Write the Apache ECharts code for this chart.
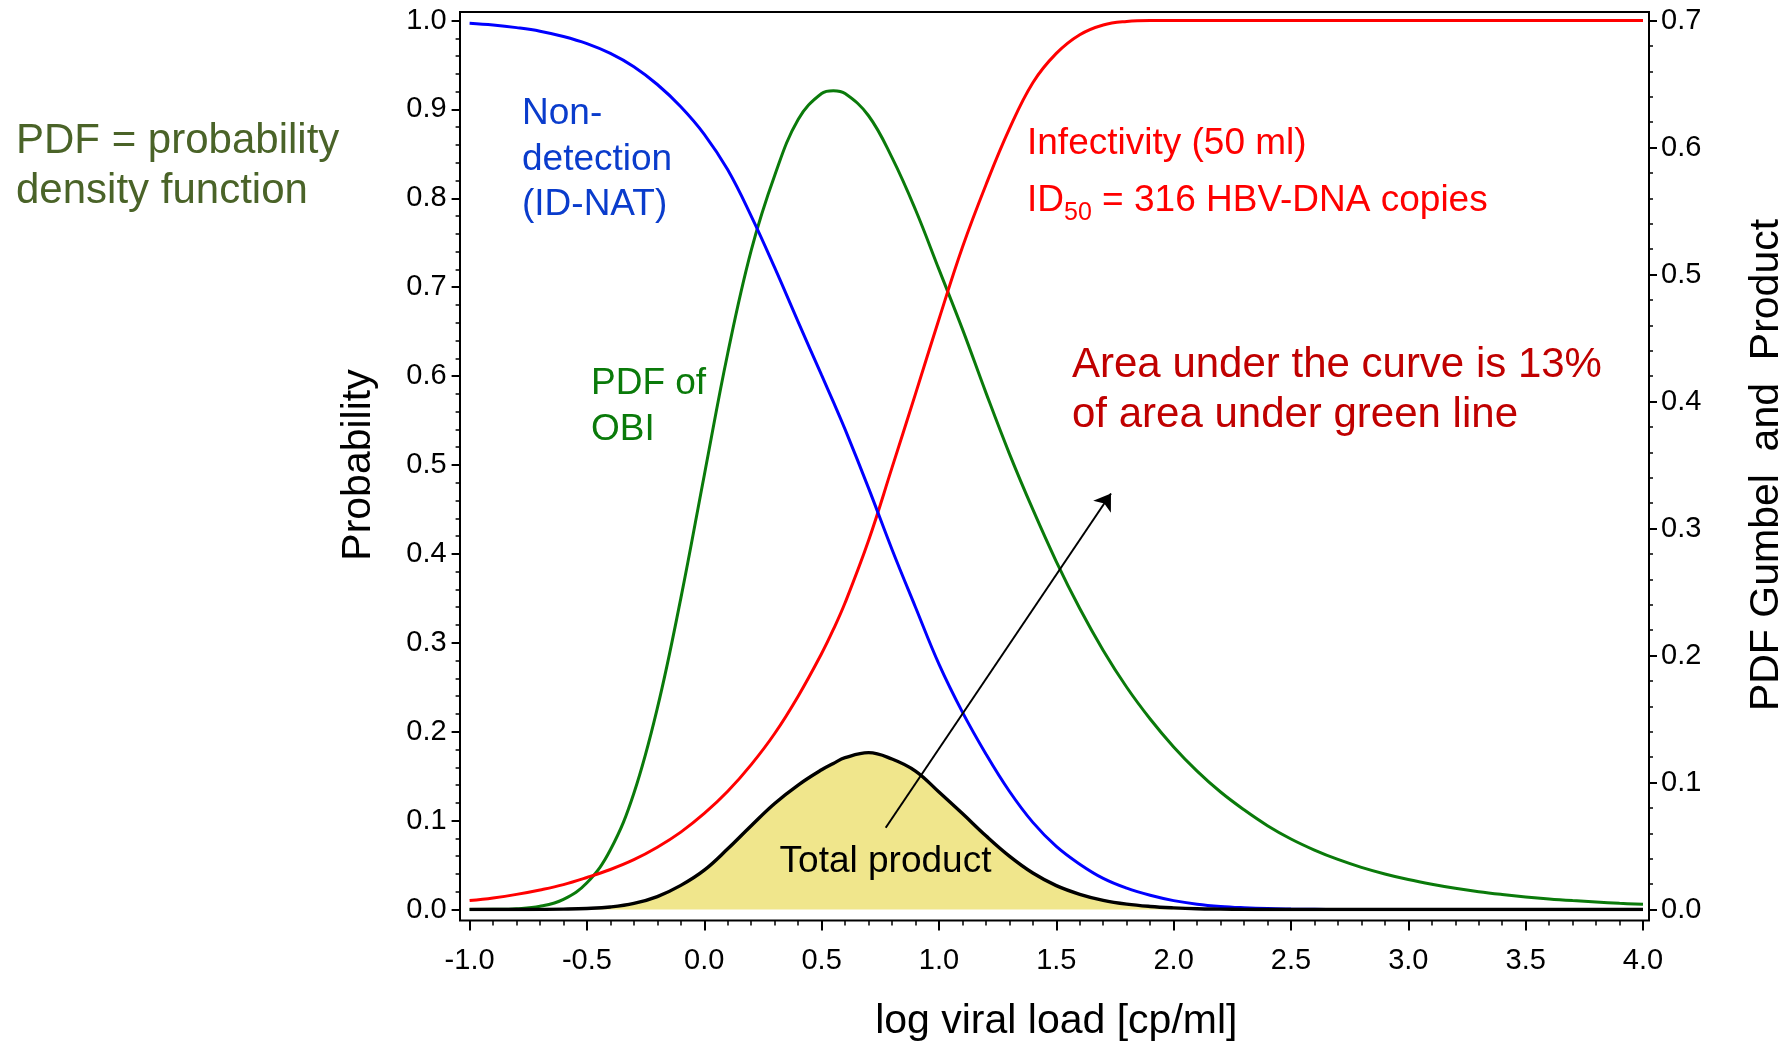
<!DOCTYPE html>
<html>
<head>
<meta charset="utf-8">
<script src="https://cdn.jsdelivr.net/npm/echarts@6/dist/echarts.min.js"></script>
<style>
html,body{margin:0;padding:0;background:#fff;}
#c{width:1788px;height:1042px;}
</style>
</head>
<body>
<div id="c"></div>
<script>
// ---- data ----
const xValues = [-1.0,-0.9,-0.8,-0.7,-0.6,-0.5,-0.4,-0.3,-0.2,-0.1,
  0.0,0.1,0.2,0.3,0.4,0.5,0.55,0.6,0.7,0.8,0.9,
  1.0,1.1,1.2,1.3,1.4,1.5,1.6,1.7,1.8,1.9,
  2.0,2.1,2.2,2.3,2.4,2.5,2.6,2.7,2.8,2.9,
  3.0,3.1,3.2,3.3,3.4,3.5,3.6,3.7,3.8,3.9,4.0];

// Non-detection (ID-NAT) probability, left axis
const nonDetection = [0.997,0.995,0.992,0.988,0.982,0.974,0.963,0.948,0.928,0.903,
  0.872,0.832,0.780,0.722,0.661,0.601,0.571,0.540,0.474,0.405,0.340,
  0.276,0.222,0.175,0.133,0.098,0.071,0.051,0.035,0.024,0.016,
  0.010,0.006,0.0035,0.002,0.001,0.0005,0.0002,0,0,0,
  0,0,0,0,0,0,0,0,0,0,0];

// Infectivity (50 ml), left axis
const infectivity = [0.010,0.013,0.017,0.022,0.028,0.036,0.045,0.056,0.070,0.087,
  0.108,0.133,0.163,0.198,0.240,0.288,0.315,0.345,0.415,0.497,0.580,
  0.664,0.745,0.815,0.878,0.930,0.963,0.984,0.995,0.999,1.0,
  1.0,1.0,1.0,1.0,1.0,1.0,1.0,1.0,1.0,1.0,
  1.0,1.0,1.0,1.0,1.0,1.0,1.0,1.0,1.0,1.0,1.0];

// PDF of OBI (Gumbel), right axis
const pdfOBI = [0.0000,0.0001,0.0006,0.0025,0.0080,0.0210,0.0470,0.0915,0.1585,0.2450,
  0.3420,0.4380,0.5190,0.5780,0.6220,0.6425,0.6447,0.6425,0.6250,0.5920,0.5510,
  0.5040,0.4570,0.4070,0.3590,0.3150,0.2740,0.2370,0.2040,0.1750,0.1500,
  0.1280,0.1090,0.0925,0.0785,0.0660,0.0555,0.0468,0.0394,0.0332,0.0280,
  0.0236,0.0199,0.0167,0.0140,0.0118,0.0099,0.0083,0.0070,0.0059,0.0049,0.0041];

// Total product, right axis
const totalProduct = [0,0,0,0.0001,0.0003,0.0008,0.0020,0.0048,0.0102,0.0190,
  0.0310,0.0478,0.0660,0.0835,0.0980,0.1100,0.1150,0.1195,0.1235,0.1185,0.1090,
  0.0925,0.0755,0.0580,0.0420,0.0287,0.0188,0.0120,0.0072,0.0042,0.0024,
  0.0013,0.0006,0.0003,0.0001,0,0,0,0,0,0,
  0,0,0,0,0,0,0,0,0,0,0];

// annotation arrow (data units: x, right-axis value)
const arrowFrom = [0.773, 0.0644];
const arrowTo = [1.733, 0.3276];

// ---- chart ----
const FONT = '"Liberation Sans", Arial, Helvetica, sans-serif';
const pair = arr => xValues.map((x, i) => [x, arr[i]]);

const chart = echarts.init(document.getElementById('c'), null, {renderer: 'canvas'});

const ctx = document.createElement('canvas').getContext('2d');
ctx.font = '37px ' + FONT;
const wID = ctx.measureText('ID').width;
ctx.font = '25px ' + FONT;
const w50 = ctx.measureText('50').width;

const tickStyle = {color: '#000', width: 2};
const minorStyle = {color: '#000', width: 1.5};

chart.setOption({
  animation: false,
  backgroundColor: '#fff',
  grid: [
    {left: 469.6, right: 145, top: 20.5, bottom: 132.5, show: false,
     containLabel: false, outerBoundsMode: 'none'},
    {left: 460, right: 139, top: 12, bottom: 121.5, show: true,
     containLabel: false, outerBoundsMode: 'none',
     borderColor: '#000', borderWidth: 2, backgroundColor: 'transparent', z: 1}
  ],
  xAxis: [
    {gridIndex: 0, type: 'value', min: -1, max: 4, interval: 0.5, position: 'bottom', offset: 11,
     axisLine: {show: false, onZero: false},
     axisTick: {show: true, length: 10, lineStyle: tickStyle},
     minorTick: {show: true, splitNumber: 5, length: 5, lineStyle: minorStyle},
     splitLine: {show: false}, minorSplitLine: {show: false},
     axisLabel: {fontSize: 29, color: '#000', fontFamily: FONT, margin: 26,
                 formatter: v => v.toFixed(1)},
     name: 'log viral load [cp/ml]', nameLocation: 'middle', nameGap: 81,
     nameTextStyle: {fontSize: 41, color: '#000', fontFamily: FONT}},
    {gridIndex: 1, type: 'value', min: 0, max: 1, show: false}
  ],
  yAxis: [
    {gridIndex: 0, type: 'value', min: 0, max: 1, interval: 0.1, position: 'left', offset: 10,
     axisLine: {show: false, onZero: false},
     axisTick: {show: true, length: 8, lineStyle: tickStyle},
     minorTick: {show: true, splitNumber: 5, length: 4, lineStyle: minorStyle},
     splitLine: {show: false}, minorSplitLine: {show: false},
     axisLabel: {fontSize: 29, color: '#000', fontFamily: FONT, margin: 13,
                 formatter: v => v.toFixed(1)},
     name: 'Probability', nameLocation: 'middle', nameGap: 80,
     nameTextStyle: {fontSize: 41, color: '#000', fontFamily: FONT}},
    {gridIndex: 0, type: 'value', min: 0, max: 0.7, interval: 0.1, position: 'right', offset: 6,
     axisLine: {show: false, onZero: false},
     axisTick: {show: true, length: 8, lineStyle: tickStyle},
     minorTick: {show: true, splitNumber: 5, length: 4, lineStyle: minorStyle},
     splitLine: {show: false}, minorSplitLine: {show: false},
     axisLabel: {fontSize: 29, color: '#000', fontFamily: FONT, margin: 12,
                 formatter: v => v.toFixed(1)},
     name: 'PDF Gumbel  and  Product', nameLocation: 'middle', nameGap: 97,
     nameTextStyle: {fontSize: 41, color: '#000', fontFamily: FONT}},
    {gridIndex: 1, type: 'value', min: 0, max: 1, show: false}
  ],
  series: [
    {name: 'PDF of OBI', type: 'line', xAxisIndex: 0, yAxisIndex: 1, data: pair(pdfOBI),
     smooth: 0.4, showSymbol: false, lineStyle: {color: '#0a7a0a', width: 3}, z: 3},
    {name: 'Infectivity', type: 'line', xAxisIndex: 0, yAxisIndex: 0, data: pair(infectivity),
     smooth: 0.4, showSymbol: false, lineStyle: {color: '#ff0000', width: 3}, z: 3},
    {name: 'Non-detection', type: 'line', xAxisIndex: 0, yAxisIndex: 0, data: pair(nonDetection),
     smooth: 0.4, showSymbol: false, lineStyle: {color: '#0000ff', width: 3}, z: 3},
    {name: 'Total product', type: 'line', xAxisIndex: 0, yAxisIndex: 1, data: pair(totalProduct),
     smooth: 0.4, showSymbol: false, lineStyle: {color: '#000', width: 3.4},
     areaStyle: {color: '#f0e68c', opacity: 1}, z: 4,
     markLine: {silent: true, symbol: ['none', 'arrow'], symbolSize: 16,
       lineStyle: {color: '#000', width: 2, type: 'solid'}, label: {show: false},
       data: [[{coord: arrowFrom}, {coord: arrowTo}]]}}
  ],
  graphic: [
    {type: 'text', x: 16, y: 116, z: 10, style: {text: 'PDF = probability\ndensity function',
      font: '42px ' + FONT, fill: '#4a6328', lineHeight: 50, align: 'left', verticalAlign: 'top'}},
    {type: 'text', x: 522, y: 91, z: 10, style: {text: 'Non-\ndetection\n(ID-NAT)',
      font: '37px ' + FONT, fill: '#0a3ccc', lineHeight: 45.6, align: 'left', verticalAlign: 'top'}},
    {type: 'text', x: 591, y: 361, z: 10, style: {text: 'PDF of\nOBI',
      font: '37px ' + FONT, fill: '#0a7a0a', lineHeight: 46, align: 'left', verticalAlign: 'top'}},
    {type: 'text', x: 1027, y: 144, z: 10, style: {text: 'Infectivity (50 ml)',
      font: '37px ' + FONT, fill: '#ff0000', align: 'left', verticalAlign: 'middle'}},
    {type: 'text', x: 1027, y: 201, z: 10, style: {text: 'ID',
      font: '37px ' + FONT, fill: '#ff0000', align: 'left', verticalAlign: 'middle'}},
    {type: 'text', x: 1027 + wID, y: 213, z: 10, style: {text: '50',
      font: '25px ' + FONT, fill: '#ff0000', align: 'left', verticalAlign: 'middle'}},
    {type: 'text', x: 1027 + wID + w50, y: 201, z: 10, style: {text: ' = 316 HBV-DNA copies',
      font: '37px ' + FONT, fill: '#ff0000', align: 'left', verticalAlign: 'middle'}},
    {type: 'text', x: 1072, y: 340, z: 10, style: {text: 'Area under the curve is 13%\nof area under green line',
      font: '42px ' + FONT, fill: '#c00000', lineHeight: 50, align: 'left', verticalAlign: 'top'}},
    {type: 'text', x: 885.5, y: 862, z: 10, style: {text: 'Total product',
      font: '37px ' + FONT, fill: '#000', align: 'center', verticalAlign: 'middle'}}
  ]
});
</script>
</body>
</html>
